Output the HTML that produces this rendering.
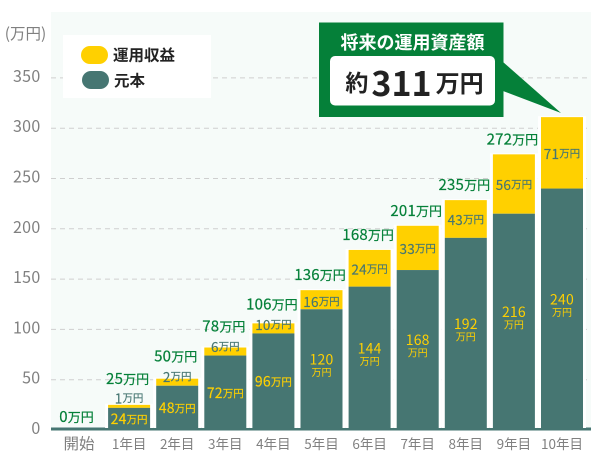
<!DOCTYPE html>
<html lang="ja">
<head>
<meta charset="utf-8">
<title>将来の運用資産額</title>
<style>
html,body{margin:0;padding:0;background:#fff;width:600px;height:460px;overflow:hidden}
svg{display:block}
text{font-family:"Noto Sans CJK JP","Liberation Sans",sans-serif;dominant-baseline:central}
</style>
</head>
<body>
<svg id="chart" width="600" height="460" viewBox="0 0 600 460" xmlns="http://www.w3.org/2000/svg">
  <rect x="51" y="12" width="540" height="418" fill="#f6fbf9"/>
  <g id="grid"></g>
  <g id="bars"></g>
  <g id="labels"></g>
  <text x="25.5" y="33" text-anchor="middle" font-size="15.5" fill="#808080">(万円)</text>
  <g>
    <rect x="63" y="35" width="148" height="63" fill="#fff"/>
    <rect x="81" y="46" width="27" height="18" rx="9" fill="#ffd000"/>
    <text x="113" y="54.5" font-size="15.5" font-weight="700" fill="#222">運用収益</text>
    <rect x="82" y="71" width="27" height="18" rx="9" fill="#467672"/>
    <text x="114" y="80" font-size="15.5" font-weight="700" fill="#222">元本</text>
  </g>
  <g>
    <polygon points="503,62 561,113 503,91" fill="#058039"/>
    <rect x="319" y="22.5" width="184.5" height="94.5" fill="#058039"/>
    <text x="412.5" y="42" text-anchor="middle" font-size="18" font-weight="700" fill="#fff">将来の運用資産額</text>
    <rect x="330" y="56" width="165" height="49.5" rx="5" fill="#fff"/>
    <text x="414.5" y="81" text-anchor="middle" fill="#222" font-weight="700"><tspan font-size="23">約</tspan><tspan font-size="34" dx="3">311</tspan><tspan font-size="24" dx="4">万円</tspan></text>
  </g>
</svg>
<script>
var categories = ['開始','1年目','2年目','3年目','4年目','5年目','6年目','7年目','8年目','9年目','10年目'];
var principalValues = [0,22,44,74,96,120,142.5,159,191,215,240];
var growthValues = [0,3,7,8,10,19,36.5,44,37.5,59,71];
var principalLabels = ['','24','48','72','96','120','144','168','192','216','240'];
var growthLabels = ['','1','2','6','10','16','24','33','43','56','71'];
var totalLabels = ['0','25','50','78','106','136','168','201','235','272'];
var yTicks = [0,50,100,150,200,250,300,350];

var NS = 'http://www.w3.org/2000/svg';
function yPos(v){ return 430 - v * 1.006; }
function xCenter(i){ return 81 + 48.1 * i; }
function mk(tag, parent, attrs){
  var el = document.createElementNS(NS, tag);
  for (var k in attrs) el.setAttribute(k, attrs[k]);
  parent.appendChild(el);
  return el;
}
function valueText(parent, x, y, num, unit, numSize, unitSize, color, weight){
  var t = mk('text', parent, {x:x, y:y, 'text-anchor':'middle', fill:color, stroke:color, 'stroke-width':weight});
  var a = mk('tspan', t, {'font-size':numSize, 'letter-spacing':0.2});
  a.textContent = num;
  var b = mk('tspan', t, {'font-size':unitSize});
  b.textContent = unit;
  return t;
}
var grid = document.getElementById('grid');
var bars = document.getElementById('bars');
var labels = document.getElementById('labels');

yTicks.forEach(function(v){
  var y = yPos(v);
  if (v > 0) {
    var line = mk('line', grid, {x1:51, x2:591, y1:y, y2:y, stroke:'#cfcfcf', 'stroke-width':1, 'stroke-dasharray':'5 4'});
    
    
  }
  var t = mk('text', labels, {x:40.5, y:y - 3, 'text-anchor':'end', 'font-size':16, 'letter-spacing':0.3, fill:'#808080'});
  
  
  t.textContent = v;
});

var base = mk('rect', bars, {x:51, y:427.5, width:540, height:3, fill:'#467672'});



categories.forEach(function(c, i){
  var cx = xCenter(i);
  var cat = mk('text', labels, {x:i === 0 ? cx - 2 : cx, y:443, 'text-anchor':'middle', fill:'#808080', 'font-size':i === 0 ? 15.5 : 13.5});
  
  
  cat.textContent = c;

  var pTop = yPos(principalValues[i]);
  var gTop = yPos(principalValues[i] + growthValues[i]);
  var h = pTop - gTop;

  if (i > 0) {
    var halo = mk('rect', bars, {x:cx - 24, y:gTop - 1, width:48, height:428 - gTop + 1, fill:'#fff'});
    
    
    var g = mk('rect', bars, {x:cx - 21, y:gTop, width:42, height:h, fill:'#ffd000'});
    
    
    var p = mk('rect', bars, {x:cx - 21, y:pTop, width:42, height:430 - pTop, fill:'#467672'});
    
    

    var gy = h < 20 ? gTop + 1.15 * h - 11 : (gTop + pTop) / 2;
    var gl = valueText(labels, cx, gy, growthLabels[i], '万円', 13.5, 10.5, '#467672', 0.15);
    
    

    var mid = (pTop + 430) / 2;
    if (principalValues[i] < 110) {
      var pl = valueText(labels, cx, mid, principalLabels[i], '万円', 14, 10.5, '#ffd000', 0.15);
      
      
    } else {
      var n = mk('text', labels, {x:cx, y:mid - 10, 'text-anchor':'middle', 'font-size':14, 'letter-spacing':0.2, fill:'#ffd000'});
      
      
      n.textContent = principalLabels[i];
      var u = mk('text', labels, {x:cx, y:mid + 2, 'text-anchor':'middle', 'font-size':10, fill:'#ffd000'});
      
      
      u.textContent = '万円';
    }
  }

  if (i < totalLabels.length) {
    var gap = i === 0 ? 14 : 16 + Math.max(0, 14 - h);
    var tl = valueText(labels, i === 0 ? cx - 4.5 : cx - 1.5, gTop - gap, totalLabels[i], '万円', 15, 13, '#058039', 0.2);
    
    
  }
});
</script>
</body>
</html>
